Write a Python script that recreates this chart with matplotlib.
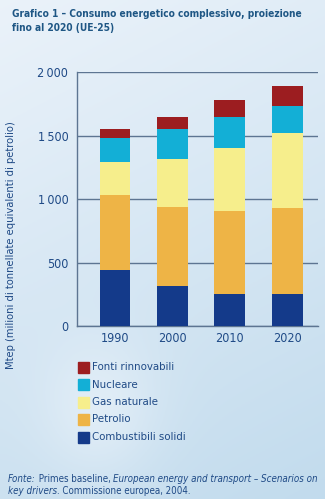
import numpy as np
import matplotlib
matplotlib.use("Agg")
import matplotlib.pyplot as plt
from matplotlib.patches import Rectangle

# ----------------------------------------------------------------------------- dati (Mtep)
anni = ["1990", "2000", "2010", "2020"]
solidi     = [438, 312, 255, 255]
petrolio   = [591, 630, 648, 677]
gas        = [262, 378, 504, 590]
nucleare   = [192, 231, 244, 213]
rinnovab   = [68, 100, 134, 160]

serie = [("Combustibili solidi", solidi, "#143a8a"),
         ("Petrolio", petrolio, "#eeb446"),
         ("Gas naturale", gas, "#f6ee8c"),
         ("Nucleare", nucleare, "#13afd6"),
         ("Fonti rinnovabili", rinnovab, "#9c1d20")]

yticks = [0, 500, 1000, 1500, 2000]
ytick_lab = ["0", "500", "1\u2009000", "1\u2009500", "2\u2009000"]

TXT = "#1f4a86"
plt.rcParams["font.family"] = ["DejaVu Sans"]
plt.rcParams["font.stretch"] = "condensed"

W, H = 325, 499
fig = plt.figure(figsize=(W / 100, H / 100), dpi=100)

# sfondo sfumato azzurro
bg = fig.add_axes([0, 0, 1, 1], zorder=-10)
yy, xx = np.mgrid[0:1:200j, 0:1:130j]
top = np.array([0.92, 0.95, 0.98])
bot = np.array([0.76, 0.86, 0.93])
t = (yy * 0.75 + xx * 0.25)[..., None]
img = top * (1 - t) + bot * t
blob = np.exp(-(((xx - 0.3) / 0.18) ** 2 + ((yy - 0.82) / 0.14) ** 2))[..., None]
img = img * (1 - 0.5 * blob) + 0.5 * blob * np.array([0.95, 0.97, 0.99])
bg.imshow(img, aspect="auto", extent=[0, 1, 1, 0])
bg.set_xlim(0, 1); bg.set_ylim(1, 0); bg.axis("off")

# ----------------------------------------------------------------------------- barre
ax = fig.add_axes([76.7 / W, 1 - 326 / H, (318 - 76.7) / W, (326 - 72.3) / H])
ax.patch.set_alpha(0)
x = np.arange(len(anni))
base = np.zeros(len(anni))
for nome, vals, col in serie:
    ax.bar(x, vals, bottom=base, width=0.54, color=col, zorder=3, linewidth=0)
    base += np.array(vals)

ax.set_xlim(-0.668, 3.54)
ax.set_ylim(0, 2000)
ax.set_yticks(yticks, ytick_lab)
ax.set_xticks(x, anni)
ax.yaxis.grid(True, color="#5d7592", linewidth=1.0, zorder=1)
for s in ["top", "right"]:
    ax.spines[s].set_visible(False)
for s in ["left", "bottom"]:
    ax.spines[s].set_color("#5d7592")
    ax.spines[s].set_linewidth(1.0)
ax.tick_params(length=0, labelsize=9, labelcolor=TXT, pad=4)
ax.tick_params(axis="y", pad=6)

# titolo
fig.text(12 / W, 1 - 9 / H, "Grafico 1 – Consumo energetico complessivo, proiezione\nfino al 2020 (UE-25)",
         fontsize=7.3, fontweight="bold", color="#1e5684", va="top", ha="left", linespacing=1.45)

# etichetta asse y
fig.text(11 / W, 1 - 245 / H, "Mtep (milioni di tonnellate equivalenti di petrolio)",
         rotation=90, fontsize=8, color=TXT, va="center", ha="center")

# legenda
for i, (nome, vals, col) in enumerate(serie[::-1]):
    yc = 367 + i * 17.5
    fig.patches.append(Rectangle((78 / W, 1 - (yc + 5.5) / H), 11 / W, 11 / H,
                                 transform=fig.transFigure, color=col, figure=fig))
    fig.text(92 / W, 1 - yc / H, nome, fontsize=8.2, color=TXT, va="center", ha="left")

# fonte (stili misti)
righe = [[("Fonte:", "italic"), (" Primes baseline, ", "normal"),
          ("European energy and transport – Scenarios on", "italic")],
         [("key drivers", "italic"), (". Commissione europea, 2004.", "normal")]]
fig.canvas.draw()
r = fig.canvas.get_renderer()
for j, riga in enumerate(righe):
    xp = 8
    for testo, stile in riga:
        tt = fig.text(xp / W, 1 - (479 + j * 12.5) / H, testo, fontsize=7.0, style=stile,
                      color=TXT, va="center", ha="left")
        xp += tt.get_window_extent(r).width

fig.savefig("out.png", dpi=100)
